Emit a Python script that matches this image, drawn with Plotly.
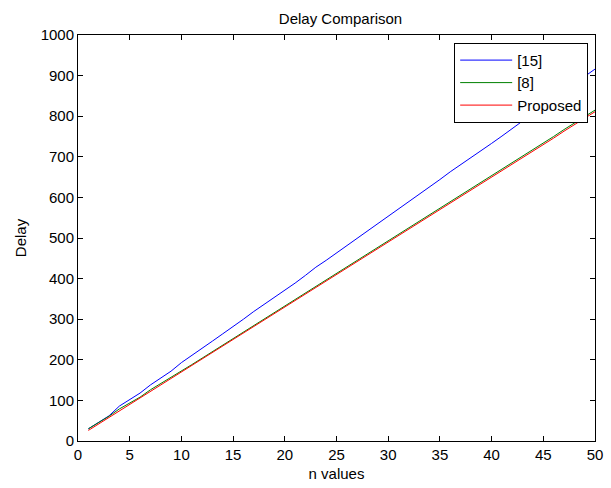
import plotly.graph_objects as go

n_values = list(range(1, 51))

ref15 = [30, 46, 62, 86, 101, 118, 138, 154, 172, 193,
         210, 227, 246, 264, 281, 300, 319, 336, 354, 372,
         389, 408, 428, 445, 463, 481, 499, 516, 535, 554,
         571, 589, 608, 625, 644, 663, 680, 698, 716, 733,
         751, 770, 789, 807, 826, 844, 862, 880, 898, 916]

ref8 = [30, 45, 61, 79, 94, 108, 126, 141, 157, 173,
        188, 204, 220, 236, 252, 268, 284, 300, 317, 333,
        348, 365, 381, 397, 413, 429, 445, 461, 477, 493,
        509, 525, 541, 557, 573, 589, 605, 621, 637, 654,
        670, 686, 702, 718, 734, 750, 767, 783, 799, 815]

proposed = [26, 42, 58, 75, 91, 105, 123, 138, 154, 170,
            185, 201, 217, 233, 249, 265, 281, 297, 313, 330,
            345, 362, 378, 394, 410, 426, 442, 458, 474, 490,
            506, 522, 538, 554, 570, 586, 602, 618, 634, 650,
            666, 682, 698, 714, 730, 746, 763, 779, 795, 811]

series_names = ["[15]", "[8]", "Proposed"]
series_colors = ["#0000FF", "#008000", "#FF0000"]

x_ticks = list(range(0, 51, 5))
y_ticks = list(range(0, 1001, 100))

FONT = "Liberation Sans, Arial, sans-serif"
FS = 15

fig = go.Figure()
for name, vals, col in zip(series_names, [ref15, ref8, proposed], series_colors):
    fig.add_trace(go.Scatter(x=n_values, y=vals, mode="lines", name=name,
                             line=dict(color=col, width=1)))

axis_common = dict(
    showgrid=False, zeroline=False, showline=True, linecolor="black", linewidth=1,
    mirror="ticks", ticks="inside", ticklen=5, tickcolor="black", tickwidth=1,
    tickfont=dict(family=FONT, size=FS, color="black"),
)

W, H = 611, 488
ML, MR, MT, MB = 78, 8, 35, 39

fig.update_layout(
    width=W, height=H,
    margin=dict(l=ML, r=MR, t=MT, b=MB),
    paper_bgcolor="white", plot_bgcolor="white",
    font=dict(family=FONT, size=FS, color="black"),
    title=dict(text="Delay Comparison", x=(ML + (W - MR)) / 2 / W, xanchor="center",
               y=1 - 19 / H, yanchor="middle",
               font=dict(family=FONT, size=FS, color="black")),
    xaxis=dict(range=[0, 50], tickvals=x_ticks, ticktext=[str(v) for v in x_ticks],
               title=dict(text="n values", standoff=6, font=dict(family=FONT, size=FS)),
               **axis_common),
    yaxis=dict(range=[0, 1000], tickvals=y_ticks, ticktext=[str(v) for v in y_ticks],
               title=dict(text="Delay", standoff=10, font=dict(family=FONT, size=FS)),
               **axis_common),
    legend=dict(x=(460 - 78) / 525, y=(449 - 43) / 414, xanchor="left", yanchor="top",
                bgcolor="white", bordercolor="black", borderwidth=1,
                font=dict(family=FONT, size=FS, color="black"),
                itemwidth=52),
    showlegend=True,
    hovermode=False,
)

fig.write_html("out.html",
               config={"displayModeBar": False},
               post_script="document.body.style.margin='0px';document.body.style.overflow='hidden';")
